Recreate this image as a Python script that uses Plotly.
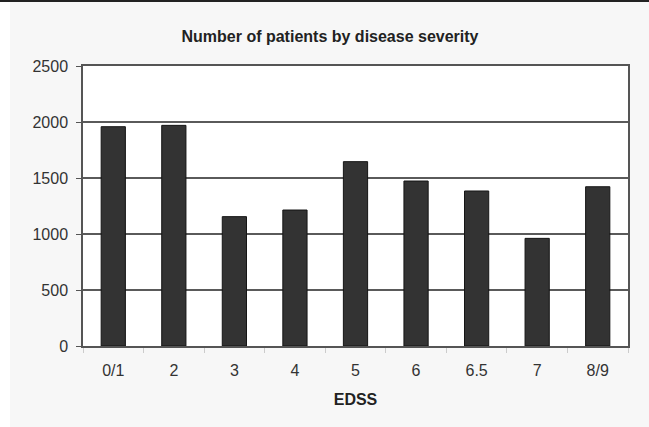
import plotly.graph_objects as go

# EDSS score groups and patient counts
edss_levels = ["0/1", "2", "3", "4", "5", "6", "6.5", "7", "8/9"]
patient_counts = [1958, 1970, 1155, 1214, 1646, 1473, 1384, 961, 1422]
y_tick_values = [0, 500, 1000, 1500, 2000, 2500]

W, H = 649, 427
L, R, T, B = 83, 21, 66, 81
plot_w = W - L - R
plot_h = H - T - B

def px_x(p):
    return (p - L) / plot_w

def px_y(p):
    return (H - B - p) / plot_h

font_family = "Liberation Sans, Arial, sans-serif"

fig = go.Figure(
    go.Bar(
        x=edss_levels,
        y=patient_counts,
        marker=dict(color="#333333", line=dict(color="#151515", width=1)),
    )
)

fig.update_layout(
    width=W,
    height=H,
    margin=dict(l=L, r=R, t=T, b=B),
    paper_bgcolor="#f7f7f7",
    plot_bgcolor="#ffffff",
    bargap=0.6,
    showlegend=False,
    title=dict(
        text="<b>Number of patients by disease severity</b>",
        x=330 / W,
        xanchor="center",
        y=1 - 36 / H,
        yanchor="middle",
        font=dict(family=font_family, size=16, color="#222222"),
    ),
    font=dict(family=font_family, color="#333333"),
    shapes=[
        # white strip on the left edge of the page
        dict(type="rect", xref="paper", yref="paper",
             x0=px_x(0), x1=px_x(10), y0=px_y(H), y1=px_y(0),
             fillcolor="#ffffff", line=dict(width=0), layer="below"),
        # dark rule along the top of the page
        dict(type="rect", xref="paper", yref="paper",
             x0=px_x(0), x1=px_x(W), y0=px_y(2), y1=px_y(0),
             fillcolor="#222222", line=dict(width=0), layer="below"),
    ],
)

fig.update_xaxes(
    type="category",
    showline=True, mirror=True, linecolor="#555555", linewidth=1.5,
    ticks="outside", tickson="boundaries", ticklen=5, tickcolor="#cccccc",
    ticklabelstandoff=9,
    tickfont=dict(size=16, color="#333333"),
    showgrid=False,
    title=dict(text="<b>EDSS</b>", font=dict(size=16, color="#222222"), standoff=16),
)

fig.update_yaxes(
    range=[0, 2500],
    tickvals=y_tick_values,
    showline=True, mirror=True, linecolor="#555555", linewidth=1.5,
    ticks="outside", ticklen=5, tickcolor="#555555",
    ticklabelstandoff=5,
    tickfont=dict(size=16, color="#333333"),
    showgrid=True, gridcolor="#5a5a5a", gridwidth=1.5,
    zeroline=False,
)

fig.write_html("out.html")
